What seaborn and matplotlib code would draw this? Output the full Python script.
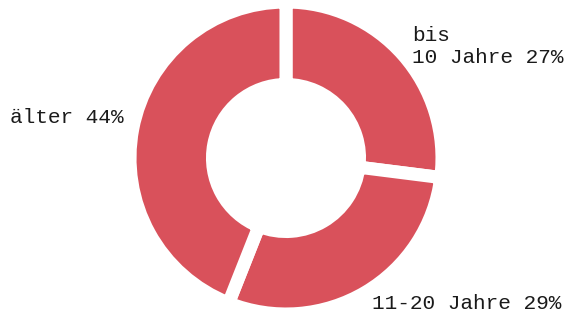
import matplotlib
matplotlib.use("Agg")
import matplotlib.pyplot as plt
import seaborn as sns

# data
categories = ["bis\n10 Jahre", "11-20 Jahre", "älter"]
shares = [27, 29, 44]
labels = [f"{c} {s}%" for c, s in zip(categories, shares)]

sns.set_theme(style="white")
plt.rcParams['font.family'] = ['Liberation Mono', 'DejaVu Sans Mono']

red = "#d9515b"
cx, cy = 286, 160

fig = plt.figure(figsize=(5.71, 3.18), dpi=100)
ax = fig.add_axes([0, 0, 1, 1])
# donut in pixel units so it lines up with the figure
wedges, texts = ax.pie(shares, labels=labels, colors=[red] * len(shares),
                       startangle=90, counterclock=False,
                       radius=156, center=(cx, cy), labeldistance=1.08,
                       wedgeprops=dict(width=82.5, edgecolor='white', linewidth=9.4),
                       textprops=dict(fontsize=15.2, color='#1a1a1a'))
# pie picks alignment from the absolute x, fix it relative to the center
for t in texts:
    x, y = t.get_position()
    t.set_horizontalalignment('left' if x > cx else 'right')
    if x < cx:
        # left label sits a bit higher in the original
        t.set_position((x + 3, y + 9))
ax.set_xlim(0, 571)
ax.set_ylim(0, 318)
ax.set_aspect('equal')
ax.axis('off')

fig.savefig('out.png', dpi=100)
